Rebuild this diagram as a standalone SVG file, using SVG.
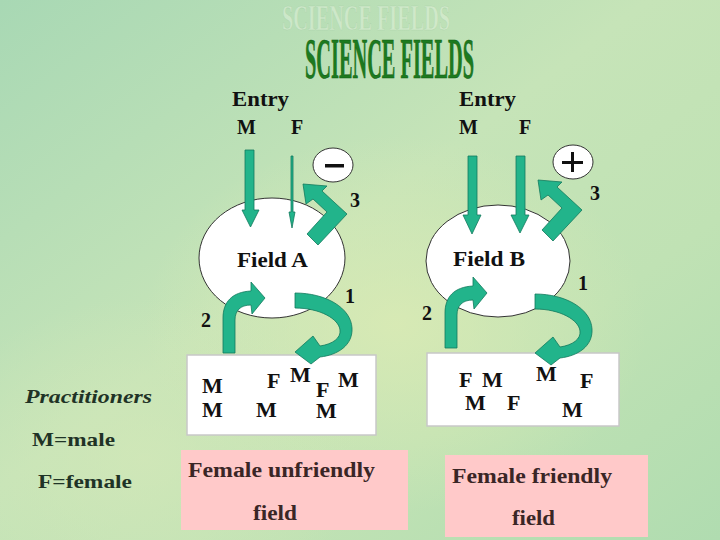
<svg xmlns="http://www.w3.org/2000/svg" width="720" height="540" viewBox="0 0 720 540">
<defs>
<linearGradient id="bg" x1="0" y1="0" x2="1" y2="1">
<stop offset="0" stop-color="#a8d8b4"/>
<stop offset="0.45" stop-color="#c6e4b8"/>
<stop offset="0.7" stop-color="#c0e2b4"/>
<stop offset="1" stop-color="#b0dcb0"/>
</linearGradient>
<radialGradient id="tint" cx="0.55" cy="0.6" r="0.35">
<stop offset="0" stop-color="#dcebb4" stop-opacity="0.8"/>
<stop offset="1" stop-color="#dcebb4" stop-opacity="0"/>
</radialGradient>
<radialGradient id="tint2" cx="0.2" cy="0.85" r="0.3">
<stop offset="0" stop-color="#d4e8b8" stop-opacity="0.7"/>
<stop offset="1" stop-color="#d4e8b8" stop-opacity="0"/>
</radialGradient>
<path id="arr3" d="M303,184 L327,186 L322,191 L347,214 L318,245 L307,234 L327,212 L313,199 L306,204 Z"/>
<path id="arr1" d="M295,293 C326,293 351,308 352,328 C353,345 338,355 320,357 L311,364 L295,352 L313,336 L320,346 C333,344 341,338 340,330 C339,319 320,308 295,308 Z"/>
<path id="arr2" d="M223,353 L223,318 C223,302 232,292 251,291 L251,282 L265,298 L252,314 L251,305 C240,305 235,311 235,320 L235,353 Z"/>
</defs>
<style>
.b{font-family:"Liberation Serif","Times New Roman",serif;font-weight:bold;fill:#111;}
.lbl{font-size:20px;}
.mf{font-size:22px;}
.num{font-size:20px;}
.leg{font-family:"Liberation Serif","Times New Roman",serif;font-weight:bold;fill:#1f3326;font-size:19px;}
.pk{font-family:"Liberation Serif","Times New Roman",serif;font-weight:bold;fill:#3a2626;font-size:20px;}
.arrow{fill:#22b48b;stroke:#137a5d;stroke-width:0.8;}
.field{fill:#ffffff;stroke:#333333;stroke-width:1;}
.box{fill:#ffffff;stroke:#c8c8c8;stroke-width:1.5;}
.pink{fill:#ffc9c9;}
.sign{fill:#ffffff;stroke:#333333;stroke-width:1;}
</style>
<rect width="720" height="540" fill="url(#bg)"/>
<rect width="720" height="540" fill="url(#tint)"/>
<rect width="720" height="540" fill="url(#tint2)"/>

<g id="title">
<text x="282" y="30" font-family="Liberation Serif,serif" font-weight="bold" font-size="36" textLength="168" lengthAdjust="spacingAndGlyphs" fill="#e2f2dc" fill-opacity="0.5" stroke="#98c498" stroke-width="0.6" stroke-opacity="0.45">SCIENCE FIELDS</text>
<text x="305" y="78" font-family="Liberation Serif,serif" font-weight="bold" font-size="58" textLength="169" lengthAdjust="spacingAndGlyphs" fill="#1d7a1f" stroke="#0f5a12" stroke-width="0.6">SCIENCE FIELDS</text>
</g>

<g id="fieldA">
<ellipse class="field" cx="272" cy="258" rx="73" ry="60"/>
<text class="b lbl" x="237" y="267" textLength="71" lengthAdjust="spacingAndGlyphs">Field A</text>
</g>
<g id="fieldB">
<ellipse class="field" cx="498" cy="261" rx="72" ry="56"/>
<text class="b lbl" x="453" y="266" textLength="72" lengthAdjust="spacingAndGlyphs">Field B</text>
</g>

<g id="entryA">
<text class="b lbl" x="232" y="106" textLength="57" lengthAdjust="spacingAndGlyphs">Entry</text>
<text class="b lbl" x="237" y="134">M</text>
<text class="b lbl" x="291" y="134">F</text>
</g>
<g id="entryB">
<text class="b lbl" x="459" y="106" textLength="57" lengthAdjust="spacingAndGlyphs">Entry</text>
<text class="b lbl" x="459" y="134">M</text>
<text class="b lbl" x="519" y="134">F</text>
</g>

<g id="signA">
<ellipse class="sign" cx="333" cy="165" rx="20" ry="17"/>
<rect x="325" y="164" width="19" height="3.5" fill="#111"/>
</g>
<g id="signB">
<ellipse class="sign" cx="573" cy="162" rx="20" ry="17"/>
<rect x="562" y="161" width="21" height="3" fill="#111"/>
<rect x="571" y="152" width="3" height="20" fill="#111"/>
</g>

<g id="boxA">
<rect x="187" y="355" width="189" height="80" class="box"/>
<text class="b mf" x="202" y="393">M</text>
<text class="b mf" x="202" y="417">M</text>
<text class="b mf" x="267" y="388">F</text>
<text class="b mf" x="290" y="382">M</text>
<text class="b mf" x="316" y="397">F</text>
<text class="b mf" x="338" y="387">M</text>
<text class="b mf" x="256" y="417">M</text>
<text class="b mf" x="316" y="418">M</text>
</g>
<g id="boxB">
<rect x="427" y="353" width="192" height="73" class="box"/>
<text class="b mf" x="459" y="387">F</text>
<text class="b mf" x="482" y="387">M</text>
<text class="b mf" x="536" y="381">M</text>
<text class="b mf" x="580" y="388">F</text>
<text class="b mf" x="465" y="410">M</text>
<text class="b mf" x="507" y="410">F</text>
<text class="b mf" x="562" y="417">M</text>
</g>

<g id="connectors">
<path class="arrow" d="M245,150 L254,150 L254,210 L259,210 L250.5,227 L242,210 L245,210 Z"/>
<path class="arrow" d="M291,156 L293,156 L293,212 L295,212 L292,228 L289,212 L291,212 Z"/>
<path class="arrow" d="M468,156 L477,156 L477,215 L481,215 L472,234 L463,215 L468,215 Z"/>
<path class="arrow" d="M516,156 L525,156 L525,215 L529,215 L520,233 L511,215 L516,215 Z"/>
<use href="#arr3" class="arrow"/>
<use href="#arr3" class="arrow" transform="translate(235,-4)"/>
<use href="#arr1" class="arrow"/>
<use href="#arr1" class="arrow" transform="translate(240,1)"/>
<use href="#arr2" class="arrow"/>
<use href="#arr2" class="arrow" transform="translate(222,-5)"/>
<text class="b num" x="350" y="207">3</text>
<text class="b num" x="590" y="200">3</text>
<text class="b num" x="345" y="303">1</text>
<text class="b num" x="578" y="290">1</text>
<text class="b num" x="201" y="327">2</text>
<text class="b num" x="422" y="320">2</text>
</g>

<g id="legend">
<text class="leg" x="25" y="403" font-style="italic" font-size="21" textLength="127" lengthAdjust="spacingAndGlyphs">Practitioners</text>
<text class="leg" x="32" y="446" textLength="83" lengthAdjust="spacingAndGlyphs">M=male</text>
<text class="leg" x="38" y="488" textLength="94" lengthAdjust="spacingAndGlyphs">F=female</text>
</g>

<g id="noteA">
<rect class="pink" x="181" y="450" width="227" height="80"/>
<text class="pk" x="188" y="477" textLength="187" lengthAdjust="spacingAndGlyphs">Female unfriendly</text>
<text class="pk" x="253" y="520" textLength="44" lengthAdjust="spacingAndGlyphs">field</text>
</g>
<g id="noteB">
<rect class="pink" x="445" y="455" width="203" height="82"/>
<text class="pk" x="452" y="483" textLength="160" lengthAdjust="spacingAndGlyphs">Female friendly</text>
<text class="pk" x="512" y="525" textLength="43" lengthAdjust="spacingAndGlyphs">field</text>
</g>
</svg>
